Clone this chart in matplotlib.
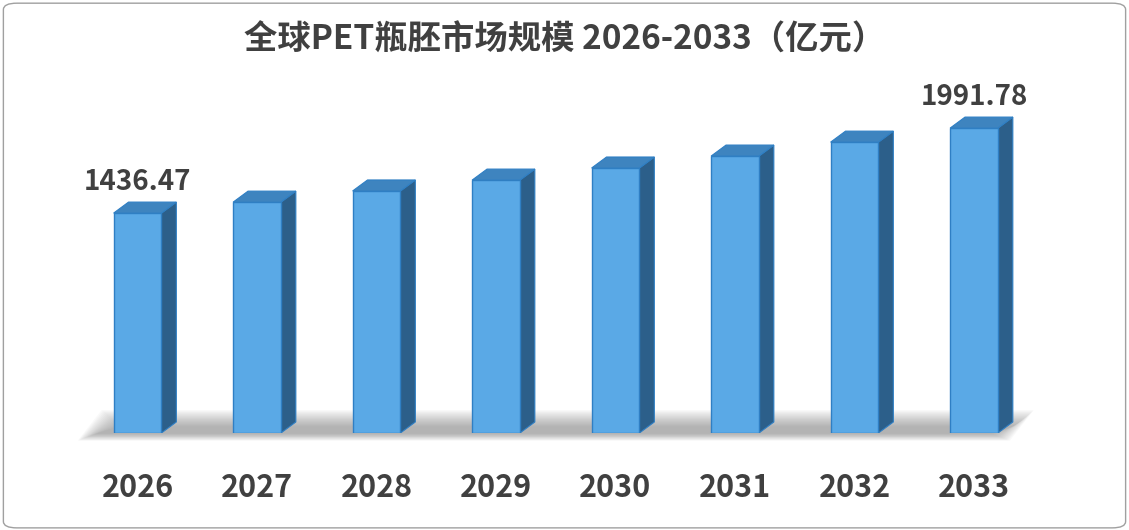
import matplotlib
matplotlib.use("Agg")
import matplotlib.pyplot as plt
from matplotlib.patches import Polygon, FancyBboxPatch
import numpy as np

plt.rcParams['font.family'] = ['Noto Sans CJK SC', 'DejaVu Sans']

years = ['2026', '2027', '2028', '2029', '2030', '2031', '2032', '2033']
values = [1436.47, 1508, 1581, 1652, 1731, 1809, 1900, 1991.78]
labeled = {0: '1436.47', 7: '1991.78'}

fig = plt.figure(figsize=(11.29, 5.30), dpi=100)
fig.patches.append(FancyBboxPatch((0.003, 0.004), 0.994, 0.99, boxstyle="round,pad=0,rounding_size=0.012",
                                  transform=fig.transFigure, fill=False, ec='#a0a0a0', lw=1))
ax = fig.add_axes([77.75/1129, 97/530, 956/1129, 398/530])
ax.set_xlim(-0.5, 7.5)
ax.set_ylim(0, 2600)
ax.axis('off')

w = 0.40
dx, dy = 0.125, 72
x = np.arange(len(years))

# floor shadow (soft)
for k in range(16):
    ax.add_patch(Polygon([(-0.5 + k*0.01, -50 + k*3), (7.3 - k*0.01, -50 + k*3),
                          (7.5 - k*0.01, 150 - k*7), (-0.3 + k*0.01, 150 - k*7)],
                         closed=True, fc='#606060', ec='none', alpha=0.035, zorder=0, clip_on=False))

ax.bar(x, values, width=w, color='#5aa9e6', edgecolor='#2f7fc4', lw=1, zorder=3)
for xi, v in zip(x, values):
    l, r = xi - w/2, xi + w/2
    ax.add_patch(Polygon([(r, 0), (r + dx, dy), (r + dx, v + dy), (r, v)], closed=True,
                         fc='#2c5f8a', ec='#2f7fc4', lw=0.8, zorder=2))
    ax.add_patch(Polygon([(l, v), (r, v), (r + dx, v + dy), (l + dx, v + dy)], closed=True,
                         fc='#3e84bf', ec='#2f7fc4', lw=0.8, zorder=4))
for i, t in labeled.items():
    ax.text(x[i], values[i] + 110, t, ha='center', va='bottom', fontsize=20, fontweight='bold', color='#404040')
for xi, y in zip(x, years):
    ax.text(xi, -360, y, ha='center', va='center', fontsize=22, fontweight='bold', color='#404040')

fig.text(0.5, 0.925, '全球PET瓶胚市场规模 2026-2033（亿元）', ha='center', va='center',
         fontsize=24, fontweight='bold', color='#404040')
fig.savefig('out.png', dpi=100)
